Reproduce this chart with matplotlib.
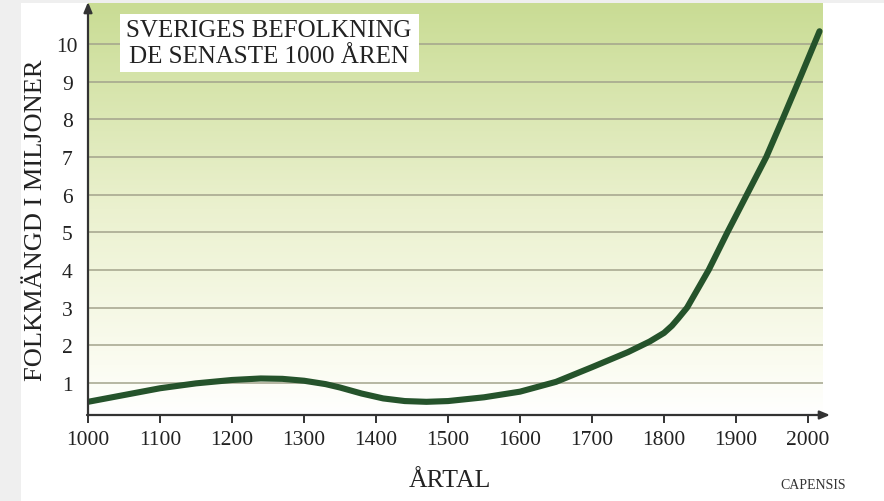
import numpy as np
import matplotlib
matplotlib.use("Agg")
import matplotlib.pyplot as plt
from matplotlib.colors import LinearSegmentedColormap
from matplotlib.patches import Rectangle

years = [1000, 1050, 1100, 1150, 1200, 1240, 1270, 1300, 1330, 1350, 1380, 1410,
         1440, 1470, 1500, 1550, 1600, 1650, 1700, 1750, 1780, 1800, 1811, 1820,
         1832, 1862, 1888, 1915, 1942, 1965, 1990, 2016]
population = [0.50, 0.68, 0.86, 0.99, 1.08, 1.12, 1.11, 1.06, 0.97, 0.88, 0.72, 0.59,
              0.52, 0.50, 0.52, 0.62, 0.77, 1.03, 1.42, 1.82, 2.10, 2.33, 2.52, 2.72,
              3.0, 4.0, 5.0, 6.0, 7.0, 8.02, 9.15, 10.34]
x_ticks = [1000, 1100, 1200, 1300, 1400, 1500, 1600, 1700, 1800, 1900, 2000]
y_ticks = [1, 2, 3, 4, 5, 6, 7, 8, 9, 10]
title_lines = ["SVERIGES BEFOLKNING", "DE SENASTE 1000 ÅREN"]

W, H = 884, 502
fig = plt.figure(figsize=(W / 100, H / 100), dpi=100, facecolor="white")
serif = "Liberation Serif"

# outer gray strips
fig.patches.append(Rectangle((0, 0), 21 / W, 1, transform=fig.transFigure,
                             facecolor="#efefef", edgecolor="none", zorder=0))
fig.patches.append(Rectangle((0, 1 - 4 / H), 1, 4 / H, transform=fig.transFigure,
                             facecolor="#efefef", edgecolor="none", zorder=0))

left, right, top, bottom = 88, 823, 4, 416
ax = fig.add_axes([left / W, (H - bottom) / H, (right - left) / W, (bottom - top) / H])
xmin, xmax = 1000, 2020.8
ymin, ymax = 0.15, 11.09
ax.set_xlim(xmin, xmax)
ax.set_ylim(ymin, ymax)

cmap = LinearSegmentedColormap.from_list("g", [(0, "#ffffff"), (0.12, "#fbfcf1"),
                                               (0.5, "#ebf1cf"), (1.0, "#c9dc94")])
grad = np.linspace(0, 1, 256).reshape(-1, 1)
ax.imshow(grad, extent=[xmin, xmax, ymin, ymax], origin="lower", aspect="auto",
          cmap=cmap, zorder=0, interpolation="bicubic")

for yv in y_ticks:
    ax.axhline(yv, color="#a3a38c", lw=1.1, zorder=1)

ax.plot(years, population, color="#25532b", lw=4.4, solid_capstyle="round",
        solid_joinstyle="round", zorder=3)

for s in ax.spines.values():
    s.set_visible(False)

# axes with arrows
ax.annotate("", xy=(830, H - bottom), xytext=(left - 1, H - bottom),
            xycoords="figure pixels", textcoords="figure pixels",
            arrowprops=dict(arrowstyle="-|>,head_length=0.6,head_width=0.25",
                            color="#333333", lw=1.6, shrinkA=0, shrinkB=0))
ax.annotate("", xy=(left, H - 3), xytext=(left, H - bottom - 1),
            xycoords="figure pixels", textcoords="figure pixels",
            arrowprops=dict(arrowstyle="-|>,head_length=0.6,head_width=0.25",
                            color="#333333", lw=1.6, shrinkA=0, shrinkB=0))

ax.set_xticks(x_ticks)
ax.set_xticklabels([str(v) for v in x_ticks], fontfamily=serif, fontsize=15.5)
ax.tick_params(axis="x", direction="out", length=6, width=1.4, color="#333333",
               pad=5, labelcolor="#222222")
ax.set_yticks(y_ticks)
ax.set_yticklabels([str(v) for v in y_ticks], fontfamily=serif, fontsize=15.5)
ax.tick_params(axis="y", length=0, pad=15, labelcolor="#222222")
for lab in ax.get_yticklabels():
    lab.set_horizontalalignment("center")

fig.text(36 / W, 1 - 220 / H, "FOLKMÄNGD I MILJONER", rotation=90, ha="center",
         va="center", fontfamily=serif, fontsize=19, color="#222222")
fig.text(450 / W, 1 - 481 / H, "ÅRTAL", ha="center", va="center",
         fontfamily=serif, fontsize=18.5, color="#222222")
fig.text(813 / W, 1 - 486 / H, "CAPENSIS", ha="center", va="center",
         fontfamily=serif, fontsize=10, color="#333333")

fig.patches.append(Rectangle((120 / W, 1 - 73 / H), (419 - 120) / W, (73 - 15) / H,
                             transform=fig.transFigure, facecolor="white",
                             edgecolor="none", zorder=5))
for i, line in enumerate(title_lines):
    fig.text(269 / W, 1 - (37 + 26 * i) / H, line, ha="center", va="baseline",
             fontfamily=serif, fontsize=18, color="#222222", zorder=6)

fig.savefig("out.png", dpi=100, facecolor="white")
